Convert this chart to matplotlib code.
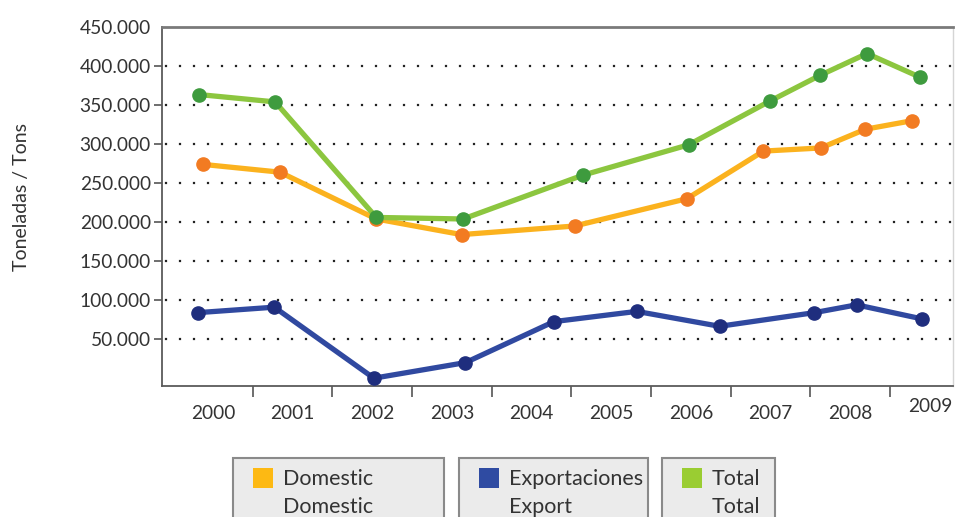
import matplotlib
matplotlib.use('Agg')
import matplotlib.pyplot as plt
import matplotlib.patches as patches
import matplotlib.transforms as mtransforms
from matplotlib.ticker import FuncFormatter

plt.rcParams['font.family'] = ['Lato', 'DejaVu Sans']

years = [2000, 2001, 2002, 2003, 2004, 2005, 2006, 2007, 2008, 2009]

# tons per year
domestic = [274000, 264000, 204000, 184000, 195000, 230000, 291000, 295000, 319000, 330000]
exports = [84000, 91000, 0, 20000, 72500, 85600, 66500, 84000, 94000, 76000]
total = [363500, 354000, 206000, 204000, 260000, 299000, 355000, 388000, 416000, 385500]

# where each series puts its yearly point along the time axis
dom_pos = [1999.87, 2000.84, 2002.05, 2003.12, 2004.54, 2005.95, 2006.91, 2007.63, 2008.19, 2008.78]
exp_pos = [1999.81, 2000.77, 2002.02, 2003.17, 2004.28, 2005.32, 2006.36, 2007.55, 2008.08, 2008.90]
tot_pos = [1999.82, 2000.78, 2002.05, 2003.14, 2004.64, 2005.97, 2006.99, 2007.62, 2008.21, 2008.88]

legend_es = ['Domestic', 'Exportaciones', 'Total']
legend_en = ['Domestic', 'Export', 'Total']

txt = '#333333'

fig = plt.figure(figsize=(9.56, 5.17), dpi=100)
ax = fig.add_axes([162/956, 131/517, 791/956, 359/517])

ax.plot(dom_pos, domestic, color='#FBB21E', lw=3.8, marker='o', ms=9.5,
        mfc='#F27B22', mec='#F27B22', zorder=3)
ax.plot(tot_pos, total, color='#8CC63F', lw=3.8, marker='o', ms=9.5,
        mfc='#3E9B3E', mec='#3E9B3E', zorder=4)
ax.plot(exp_pos, exports, color='#3049A0', lw=3.8, marker='o', ms=9.5,
        mfc='#1F2E7E', mec='#1F2E7E', zorder=5, clip_on=False)

ax.set_xlim(1999.36, 2009.29)
ax.set_ylim(-10000, 450000)

yt = list(range(50000, 450001, 50000))
ax.set_yticks(yt)
ax.yaxis.set_major_formatter(FuncFormatter(lambda v, p: '{:,.0f}'.format(v).replace(',', '.')))
ax.tick_params(axis='y', length=6, width=1.2, color='#555555', labelsize=13.8,
               labelcolor=txt, pad=2)
ax.grid(axis='y', color='#222222', lw=1.6, linestyle=(5, (1, 5.3)))
last = ax.yaxis.get_major_ticks()[-1]
last.tick1line.set_visible(False)
last.gridline.set_visible(False)

ax.set_xticks(years)
ax.set_xticklabels([str(y) for y in years])
ax.set_xticks([y + 0.5 for y in years[:-1]], minor=True)
ax.tick_params(axis='x', which='major', length=0, pad=14, labelsize=13.8, labelcolor=txt)
ax.tick_params(axis='x', which='minor', length=8, width=1.2, color='#555555')
lab = ax.get_xticklabels()[-1]
lab.set_transform(lab.get_transform() + mtransforms.ScaledTranslation(0, 7/100, fig.dpi_scale_trans))

ax.spines['left'].set_color('#5a5a5a')
ax.spines['left'].set_linewidth(1.3)
ax.spines['bottom'].set_color('#5a5a5a')
ax.spines['bottom'].set_linewidth(1.3)
ax.spines['top'].set_color('#7a7a7a')
ax.spines['top'].set_linewidth(2)
ax.spines['right'].set_color('#d5d5d5')
ax.spines['right'].set_linewidth(1)

fig.text(22/956, 1 - 197/517, 'Toneladas / Tons', rotation=90, ha='center', va='center',
         fontsize=14, color=txt)

# legend boxes under the chart
boxes = [(233, 444), (459, 648), (662, 775)]
swatch = ['#FDB913', '#2F4BA2', '#9ACD32']
for (x0, x1), c, es, en in zip(boxes, swatch, legend_es, legend_en):
    fig.patches.append(patches.Rectangle((x0/956, -0.05), (x1-x0)/956, (517-458)/517 + 0.05,
                                         transform=fig.transFigure, facecolor='#ebebeb',
                                         edgecolor='#8a8a8a', lw=1.5))
    fig.patches.append(patches.Rectangle(((x0+20)/956, 1 - 488/517), 20/956, 20/517,
                                         transform=fig.transFigure, facecolor=c, edgecolor='none'))
    fig.text((x0+50)/956, 1 - 479/517, es, fontsize=15.5, color=txt, va='center', ha='left')
    fig.text((x0+50)/956, 1 - 507/517, en, fontsize=15.5, color=txt, va='center', ha='left')

fig.savefig('out.png', dpi=100)
